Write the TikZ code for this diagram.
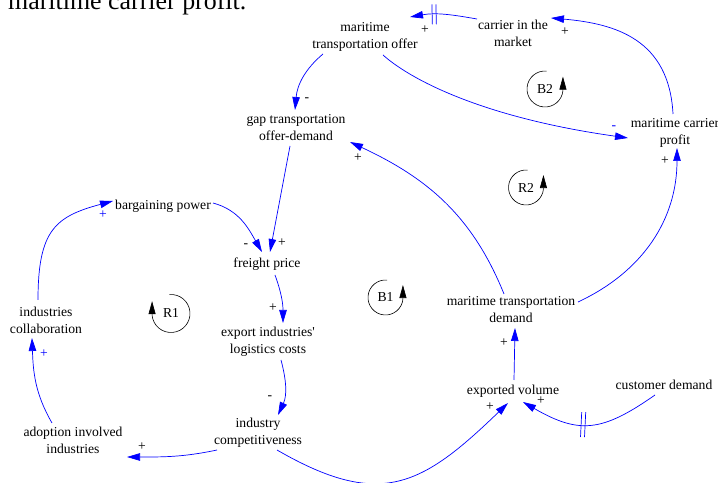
\documentclass[tikz,border=0pt]{standalone}
\usepackage{fontspec}
\setmainfont{Liberation Serif}
\usetikzlibrary{arrows.meta, calc, decorations.markings}

\tikzset{
    var/.style={align=center, inner sep=1bp},
    link/.style={draw=blue, line width=0.7bp, -{Triangle[length=13bp, width=7.5bp]}},
    sign/.style={inner sep=0pt},
    bluesign/.style={sign, text=blue},
    delaymark/.style 2 args={postaction={decorate}, decoration={markings, mark=at position #1 with {\draw[arrows=-, blue, line width=0.7bp] (-2,-#2) -- (-2,#2) (2,-#2) -- (2,#2);}}},
    loopline/.style={draw=black, line width=0.6bp, -{Triangle[length=13bp, width=7bp]}}
}

\begin{document}
\begin{tikzpicture}[x=1bp, y=1bp, font=\fontsize{13.7}{17}\selectfont]
    \useasboundingbox (0,0) rectangle (718,483);
    \clip (0,0) rectangle (718,483);

    % Caption line cut at the top
    \node[anchor=base west, inner sep=0pt, font=\fontsize{26}{30}\selectfont] (caption) at (8,473) {maritime carrier profit.};

    % Variables
    \node[var] (offer) at (365,446) {maritime\\transportation offer};
    \node[var] (carrier) at (513,450) {carrier in the\\market};
    \node[var] (gap) at (296,355) {gap transportation\\offer-demand};
    \node[var] (profit) at (675,350) {maritime carrier\\profit};
    \node[var] (bargain) at (163,277) {bargaining power};
    \node[var] (freight) at (267,219) {freight price};
    \node[var] (collab) at (46,163) {industries\\collaboration};
    \node[var] (logistics) at (268,141) {export industries\textquotesingle\\logistics costs};
    \node[var] (compet) at (258,50) {industry\\competitiveness};
    \node[var] (adoption) at (73,43) {adoption involved\\industries};
    \node[var] (demand) at (511,173) {maritime transportation\\demand};
    \node[var] (volume) at (513,92) {exported volume};
    \node[var] (customer) at (664,98) {customer demand};

    % Links
    \draw[link] ($(offer)+(-42,-17)$) to[out=220, in=85] ($(gap)+(-1,18)$) node[sign, xshift=12bp, yshift=10bp] {-};
    \draw[link, delaymark={0.64}{10}] ($(carrier)+(-36,14)$) to[out=170, in=10] ($(offer)+(45,20)$) node[sign, xshift=15bp, yshift=-13bp] {+};
    \draw[link] ($(profit)+(-2,19)$) to[out=93, in=-5, out distance=75, in distance=65] ($(carrier)+(38,15)$) node[sign, xshift=14bp, yshift=-14bp] {+};
    \draw[link] ($(offer)+(18,-18)$) to[out=-42, in=172, out distance=35, in distance=150] ($(profit)+(-47,-5)$) node[bluesign, xshift=-14bp, yshift=10bp] {-};
    \draw[link] ($(demand)+(-7,16)$) to[out=112, in=-25] ($(gap)+(54,-14)$) node[sign, xshift=8bp, yshift=-16bp] {+};
    \draw[link] ($(demand)+(67,8)$) to[out=25, in=-90] ($(profit)+(2,-15)$) node[sign, xshift=-12bp, yshift=-13bp] {+};
    \draw[link] ($(gap)+(-6,-18)$) -- ($(freight)+(3,12)$) node[sign, xshift=12bp, yshift=9bp] {+};
    \draw[link] ($(bargain)+(50,3)$) to[out=-15, in=120] ($(freight)+(-5,12)$) node[sign, xshift=-16bp, yshift=6bp] {-};
    \draw[link] ($(freight)+(8,-11)$) to[out=-70, in=90] ($(logistics)+(15,19)$) node[sign, xshift=-10bp, yshift=15bp] {+};
    \draw[link] ($(logistics)+(13,-18)$) to[out=-75, in=65] ($(compet)+(20,18)$) node[sign, xshift=-8bp, yshift=17bp] {-};
    \draw[link] ($(compet)+(-41,-17)$) to[out=192, in=0] ($(adoption)+(54,-17)$) node[sign, xshift=15bp, yshift=10bp] {+};
    \draw[link] ($(adoption)+(-21,17)$) to[out=120, in=-88] ($(collab)+(-14,-18)$) node[bluesign, xshift=12bp, yshift=-16bp] {+};
    \draw[link] ($(collab)+(-8,20)$) to[out=90, in=195, out distance=70, in distance=60] ($(bargain)+(-50,5)$) node[bluesign, xshift=-10bp, yshift=-14bp] {+};
    \draw[link] ($(compet)+(19,-17)$) to[out=-30, in=-136, out distance=120, in distance=120] ($(volume)+(-5,-12)$) node[sign, xshift=-18bp, yshift=-4bp] {+};
    \draw[link] ($(volume)+(1,11)$) -- ($(demand)+(4,-18)$) node[sign, xshift=-11bp, yshift=-15bp] {+};
    \draw[link, delaymark={0.55}{12.5}] ($(customer)+(-9,-10)$) to[out=215, in=-30, out distance=65, in distance=65] ($(volume)+(10,-11)$) node[sign, xshift=18bp, yshift=1bp] {+};

    % Loop markers
    \node (loopB2) at (545,394) {B2};
    \draw[loopline] ([shift={(85:18)}]loopB2.center) arc[start angle=85, end angle=355, radius=18] -- ++(0,14);
    \node (loopR2) at (526,295.5) {R2};
    \draw[loopline] ([shift={(85:17.5)}]loopR2.center) arc[start angle=85, end angle=355, radius=17.5] -- ++(0,14);
    \node (loopB1) at (385.5,185.5) {B1};
    \draw[loopline] ([shift={(85:17.5)}]loopB1.center) arc[start angle=85, end angle=355, radius=17.5] -- ++(0,14);
    \node (loopR1) at (171,169.5) {R1};
    \draw[loopline] ([shift={(95:19)}]loopR1.center) arc[start angle=95, end angle=-175, radius=19] -- ++(0,14);
\end{tikzpicture}
\end{document}
